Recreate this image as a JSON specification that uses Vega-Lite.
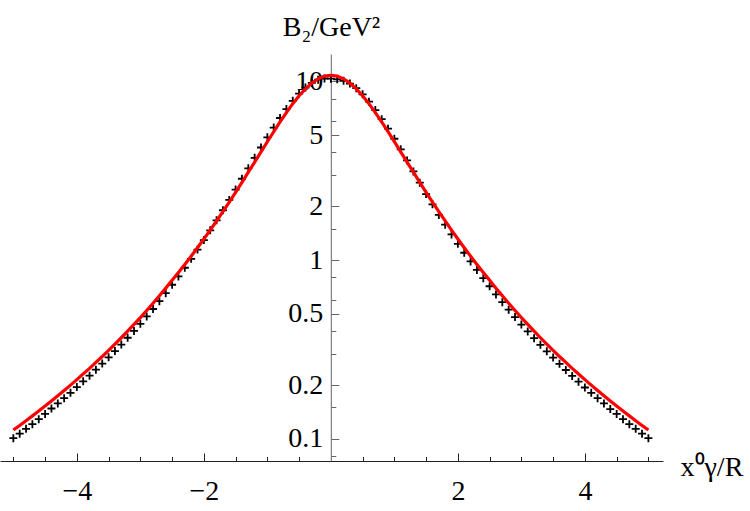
{
  "$schema": "https://vega.github.io/schema/vega-lite/v6.json",
  "width": 663,
  "height": 407,
  "autosize": {"type": "none"},
  "padding": {"left": 0, "top": 54, "right": 87, "bottom": 50},
  "background": "white",
  "config": {"view": {"stroke": null}, "font": "Liberation Serif"},
  "title": {
    "text": "B₂/GeV²",
    "anchor": "middle",
    "font": "Liberation Serif",
    "fontSize": 28,
    "fontWeight": "normal",
    "baseline": "alphabetic",
    "offset": -10,
    "color": "black"
  },
  "data": {
    "values": [
      {"x": -5.0, "b2": 0.101, "fit": 0.1122},
      {"x": -4.9, "b2": 0.107, "fit": 0.119},
      {"x": -4.8, "b2": 0.114, "fit": 0.1265},
      {"x": -4.7, "b2": 0.121, "fit": 0.1346},
      {"x": -4.6, "b2": 0.129, "fit": 0.1433},
      {"x": -4.5, "b2": 0.138, "fit": 0.1528},
      {"x": -4.4, "b2": 0.148, "fit": 0.1632},
      {"x": -4.3, "b2": 0.158, "fit": 0.1743},
      {"x": -4.2, "b2": 0.169, "fit": 0.1866},
      {"x": -4.1, "b2": 0.181, "fit": 0.2},
      {"x": -4.0, "b2": 0.195, "fit": 0.2147},
      {"x": -3.9, "b2": 0.21, "fit": 0.231},
      {"x": -3.8, "b2": 0.226, "fit": 0.248},
      {"x": -3.7, "b2": 0.244, "fit": 0.268},
      {"x": -3.6, "b2": 0.264, "fit": 0.289},
      {"x": -3.5, "b2": 0.286, "fit": 0.313},
      {"x": -3.4, "b2": 0.31, "fit": 0.339},
      {"x": -3.3, "b2": 0.337, "fit": 0.368},
      {"x": -3.2, "b2": 0.368, "fit": 0.4005},
      {"x": -3.1, "b2": 0.402, "fit": 0.437},
      {"x": -3.0, "b2": 0.44, "fit": 0.477},
      {"x": -2.9, "b2": 0.484, "fit": 0.523},
      {"x": -2.8, "b2": 0.533, "fit": 0.574},
      {"x": -2.7, "b2": 0.589, "fit": 0.632},
      {"x": -2.6, "b2": 0.653, "fit": 0.697},
      {"x": -2.5, "b2": 0.728, "fit": 0.772},
      {"x": -2.4, "b2": 0.81, "fit": 0.853},
      {"x": -2.3, "b2": 0.906, "fit": 0.946},
      {"x": -2.2, "b2": 1.017, "fit": 1.052},
      {"x": -2.1, "b2": 1.145, "fit": 1.173},
      {"x": -2.0, "b2": 1.294, "fit": 1.312},
      {"x": -1.9, "b2": 1.467, "fit": 1.471},
      {"x": -1.8, "b2": 1.668, "fit": 1.655},
      {"x": -1.7, "b2": 1.9, "fit": 1.866},
      {"x": -1.6, "b2": 2.17, "fit": 2.11},
      {"x": -1.5, "b2": 2.48, "fit": 2.39},
      {"x": -1.4, "b2": 2.85, "fit": 2.72},
      {"x": -1.3, "b2": 3.26, "fit": 3.1},
      {"x": -1.2, "b2": 3.73, "fit": 3.53},
      {"x": -1.1, "b2": 4.26, "fit": 4.03},
      {"x": -1.0, "b2": 4.86, "fit": 4.59},
      {"x": -0.9, "b2": 5.51, "fit": 5.22},
      {"x": -0.8, "b2": 6.23, "fit": 5.92},
      {"x": -0.7, "b2": 6.99, "fit": 6.68},
      {"x": -0.6, "b2": 7.77, "fit": 7.49},
      {"x": -0.5, "b2": 8.53, "fit": 8.3},
      {"x": -0.4, "b2": 9.22, "fit": 9.07},
      {"x": -0.3, "b2": 9.8, "fit": 9.77},
      {"x": -0.2, "b2": 10.2, "fit": 10.32},
      {"x": -0.1, "b2": 10.36, "fit": 10.68},
      {"x": 0.0, "b2": 10.33, "fit": 10.8},
      {"x": 0.1, "b2": 10.25, "fit": 10.68},
      {"x": 0.2, "b2": 10.06, "fit": 10.32},
      {"x": 0.3, "b2": 9.7, "fit": 9.77},
      {"x": 0.4, "b2": 9.14, "fit": 9.07},
      {"x": 0.5, "b2": 8.45, "fit": 8.3},
      {"x": 0.6, "b2": 7.69, "fit": 7.49},
      {"x": 0.7, "b2": 6.9, "fit": 6.68},
      {"x": 0.8, "b2": 6.14, "fit": 5.92},
      {"x": 0.9, "b2": 5.43, "fit": 5.22},
      {"x": 1.0, "b2": 4.77, "fit": 4.59},
      {"x": 1.1, "b2": 4.16, "fit": 4.03},
      {"x": 1.2, "b2": 3.61, "fit": 3.53},
      {"x": 1.3, "b2": 3.13, "fit": 3.1},
      {"x": 1.4, "b2": 2.71, "fit": 2.72},
      {"x": 1.5, "b2": 2.34, "fit": 2.39},
      {"x": 1.6, "b2": 2.05, "fit": 2.11},
      {"x": 1.7, "b2": 1.79, "fit": 1.866},
      {"x": 1.8, "b2": 1.577, "fit": 1.655},
      {"x": 1.9, "b2": 1.392, "fit": 1.471},
      {"x": 2.0, "b2": 1.233, "fit": 1.312},
      {"x": 2.1, "b2": 1.099, "fit": 1.173},
      {"x": 2.2, "b2": 0.983, "fit": 1.052},
      {"x": 2.3, "b2": 0.881, "fit": 0.946},
      {"x": 2.4, "b2": 0.792, "fit": 0.853},
      {"x": 2.5, "b2": 0.714, "fit": 0.772},
      {"x": 2.6, "b2": 0.643, "fit": 0.697},
      {"x": 2.7, "b2": 0.582, "fit": 0.632},
      {"x": 2.8, "b2": 0.528, "fit": 0.574},
      {"x": 2.9, "b2": 0.48, "fit": 0.523},
      {"x": 3.0, "b2": 0.436, "fit": 0.477},
      {"x": 3.1, "b2": 0.399, "fit": 0.437},
      {"x": 3.2, "b2": 0.366, "fit": 0.4005},
      {"x": 3.3, "b2": 0.336, "fit": 0.368},
      {"x": 3.4, "b2": 0.309, "fit": 0.339},
      {"x": 3.5, "b2": 0.285, "fit": 0.313},
      {"x": 3.6, "b2": 0.263, "fit": 0.289},
      {"x": 3.7, "b2": 0.243, "fit": 0.268},
      {"x": 3.8, "b2": 0.225, "fit": 0.248},
      {"x": 3.9, "b2": 0.209, "fit": 0.231},
      {"x": 4.0, "b2": 0.194, "fit": 0.2147},
      {"x": 4.1, "b2": 0.181, "fit": 0.2},
      {"x": 4.2, "b2": 0.169, "fit": 0.1866},
      {"x": 4.3, "b2": 0.158, "fit": 0.1743},
      {"x": 4.4, "b2": 0.147, "fit": 0.1632},
      {"x": 4.5, "b2": 0.138, "fit": 0.1528},
      {"x": 4.6, "b2": 0.129, "fit": 0.1433},
      {"x": 4.7, "b2": 0.121, "fit": 0.1346},
      {"x": 4.8, "b2": 0.114, "fit": 0.1265},
      {"x": 4.9, "b2": 0.107, "fit": 0.119},
      {"x": 5.0, "b2": 0.101, "fit": 0.1122}
    ]
  },
  "encoding": {
    "x": {
      "field": "x",
      "type": "quantitative",
      "scale": {"domain": [-5.21, 5.23], "nice": false, "zero": false},
      "axis": {
        "title": "x⁰γ/R",
        "titleFont": "Liberation Serif",
        "titleFontSize": 28,
        "titleFontWeight": "normal",
        "titleColor": "black",
        "titleAngle": 0,
        "titleAlign": "left",
        "titleBaseline": "alphabetic",
        "titleX": 680,
        "titleY": 14,
        "values": [-5, -4.5, -4, -3.5, -3, -2.5, -2, -1.5, -1, -0.5, 0.5, 1, 1.5, 2, 2.5, 3, 3.5, 4, 4.5, 5],
        "labelExpr": "datum.value == -4 ? '−4' : datum.value == -2 ? '−2' : datum.value == 2 ? '2' : datum.value == 4 ? '4' : ''",
        "labelOverlap": false,
        "labelFlush": false,
        "labelFont": "Liberation Serif",
        "labelFontSize": 28,
        "labelColor": "black",
        "labelPadding": 24,
        "tickSize": {"condition": {"test": "indexof([-4, -2, 2, 4], datum.value) >= 0", "value": -8}, "value": -4.5},
        "tickColor": "#222",
        "tickWidth": 1,
        "domainColor": "#222",
        "domainWidth": 1,
        "grid": false
      }
    }
  },
  "layer": [
    {
      "mark": {"type": "point", "shape": "M-1,0H1M0,-1V1", "filled": false, "stroke": "black", "strokeWidth": 1.8, "size": 64, "opacity": 1},
      "encoding": {
        "y": {
          "field": "b2",
          "type": "quantitative",
          "scale": {"type": "log", "domain": [0.0753, 14.2], "nice": false},
          "axis": {
            "title": null,
            "orient": "left",
            "offset": -330.8,
            "values": [0.08, 0.1, 0.15, 0.2, 0.3, 0.4, 0.5, 0.6, 0.8, 1, 1.5, 2, 3, 4, 5, 6, 8, 10],
            "labelExpr": "indexof([0.1, 0.2, 0.5, 1, 2, 5, 10], datum.value) >= 0 ? format(datum.value, '~g') : ''",
            "labelOverlap": false,
            "labelFlush": false,
            "labelFont": "Liberation Serif",
            "labelFontSize": 28,
            "labelColor": "black",
            "labelPadding": 16,
            "tickSize": {"condition": {"test": "indexof([0.1, 0.2, 0.5, 1, 2, 5, 10], datum.value) >= 0", "value": -8}, "value": -5},
            "tickColor": "#666",
            "tickWidth": 1,
            "domainColor": "#666",
            "domainWidth": 1,
            "grid": false
          }
        }
      }
    },
    {
      "mark": {"type": "line", "color": "#ff0000", "strokeWidth": 3.2},
      "encoding": {
        "y": {
          "field": "fit",
          "type": "quantitative",
          "scale": {"type": "log", "domain": [0.0753, 14.2], "nice": false},
          "axis": {
            "title": null,
            "orient": "left",
            "offset": -330.8,
            "values": [0.08, 0.1, 0.15, 0.2, 0.3, 0.4, 0.5, 0.6, 0.8, 1, 1.5, 2, 3, 4, 5, 6, 8, 10],
            "labelExpr": "indexof([0.1, 0.2, 0.5, 1, 2, 5, 10], datum.value) >= 0 ? format(datum.value, '~g') : ''",
            "labelOverlap": false,
            "labelFlush": false,
            "labelFont": "Liberation Serif",
            "labelFontSize": 28,
            "labelColor": "black",
            "labelPadding": 16,
            "tickSize": {"condition": {"test": "indexof([0.1, 0.2, 0.5, 1, 2, 5, 10], datum.value) >= 0", "value": -8}, "value": -5},
            "tickColor": "#666",
            "tickWidth": 1,
            "domainColor": "#666",
            "domainWidth": 1,
            "grid": false
          }
        }
      }
    }
  ]
}
